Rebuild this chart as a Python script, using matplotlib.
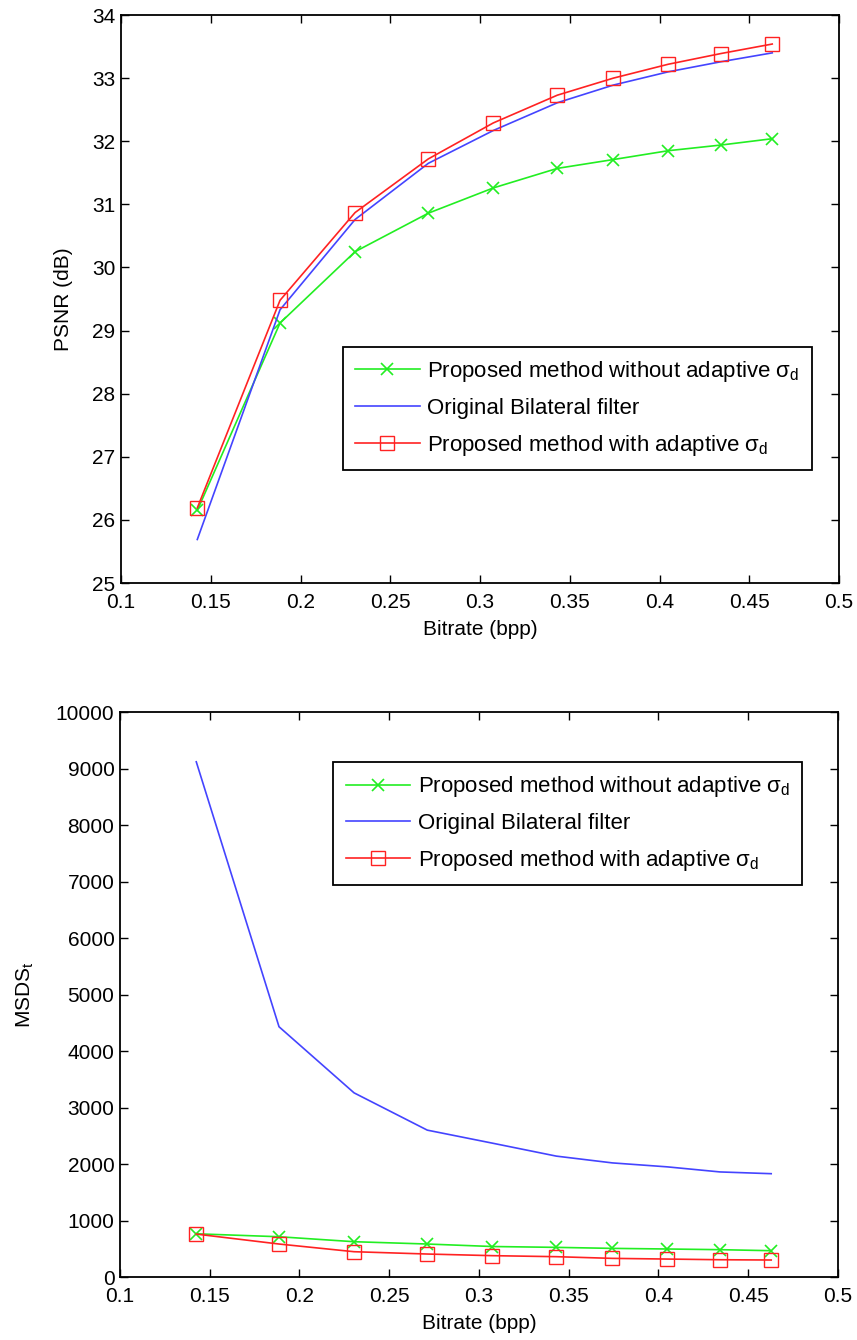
import matplotlib.pyplot as plt
import numpy as np

plt.rcParams['font.family'] = ['Liberation Sans', 'DejaVu Sans']
plt.rcParams['mathtext.fontset'] = 'custom'
plt.rcParams['mathtext.rm'] = 'Liberation Sans'
plt.rcParams['mathtext.it'] = 'Liberation Sans'

# bitrate (bpp)
bitrate = [0.1425, 0.1886, 0.2304, 0.2712, 0.3074, 0.3431, 0.3743, 0.4049, 0.4343, 0.4628]

# PSNR (dB)
psnr_no_adapt = [26.15, 29.12, 30.25, 30.86, 31.26, 31.57, 31.71, 31.85, 31.94, 32.04]
psnr_bilateral = [25.69, 29.33, 30.76, 31.65, 32.17, 32.61, 32.89, 33.10, 33.26, 33.40]
psnr_adapt = [26.19, 29.48, 30.87, 31.72, 32.29, 32.73, 33.00, 33.22, 33.39, 33.54]

# MSDS_t
msds_no_adapt = [765, 713, 625, 584, 540, 525, 507, 496, 484, 466]
msds_bilateral = [9120, 4430, 3260, 2600, 2370, 2140, 2020, 1950, 1860, 1829]
msds_adapt = [760, 584, 448, 407, 378, 360, 330, 318, 306, 301]

labels = [r'Proposed method without adaptive $\sigma_d$',
          'Original Bilateral filter',
          r'Proposed method with adaptive $\sigma_d$']

green = '#22ee22'
blue = '#4444ff'
red = '#ff2222'

fig = plt.figure(figsize=(8.57, 13.4), dpi=100)
ax1 = fig.add_axes([0.1412, 0.5649, 0.8378, 0.4239])
ax2 = fig.add_axes([0.1400, 0.0470, 0.8378, 0.4216])


def draw(ax, s1, s2, s3):
  ax.plot(bitrate, s1, color=green, marker='x', ms=8, mew=1.2, lw=1.2, label=labels[0])
  ax.plot(bitrate, s2, color=blue, lw=1.2, label=labels[1])
  ax.plot(bitrate, s3, color=red, marker='s', ms=10, mfc='none', mew=1.0, lw=1.2, label=labels[2])
  ax.set_xlim(0.1, 0.5)
  ax.set_xticks(np.arange(0.1, 0.501, 0.05))
  ax.set_xticklabels(['0.1', '0.15', '0.2', '0.25', '0.3', '0.35', '0.4', '0.45', '0.5'])
  ax.tick_params(direction='in', top=True, right=True, length=6, width=1, labelsize=15)
  ax.tick_params(axis='x', pad=7)
  ax.tick_params(axis='y', pad=4)
  for sp in ax.spines.values():
    sp.set_linewidth(1.3)
  ax.set_xlabel('Bitrate (bpp)', fontsize=15, labelpad=6)


def legend(ax, anchor):
  leg = ax.legend(loc='upper right', bbox_to_anchor=anchor, fontsize=16,
                  fancybox=False, edgecolor='black', framealpha=1, handlelength=2.9,
                  handletextpad=0.35, borderpad=0.55, labelspacing=0.62,
                  borderaxespad=0)
  leg.get_frame().set_linewidth(1.3)


draw(ax1, psnr_no_adapt, psnr_bilateral, psnr_adapt)
ax1.set_ylim(25, 34)
ax1.set_yticks(range(25, 35))
ax1.set_ylabel('PSNR (dB)', fontsize=15, labelpad=14)
legend(ax1, (0.962, 0.4155))

draw(ax2, msds_no_adapt, msds_bilateral, msds_adapt)
ax2.set_ylim(0, 10000)
ax2.set_yticks(range(0, 10001, 1000))
ax2.set_ylabel(r'MSDS$_t$', fontsize=15, labelpad=14)
legend(ax2, (0.95, 0.9115))

fig.savefig('out.png', dpi=100)
